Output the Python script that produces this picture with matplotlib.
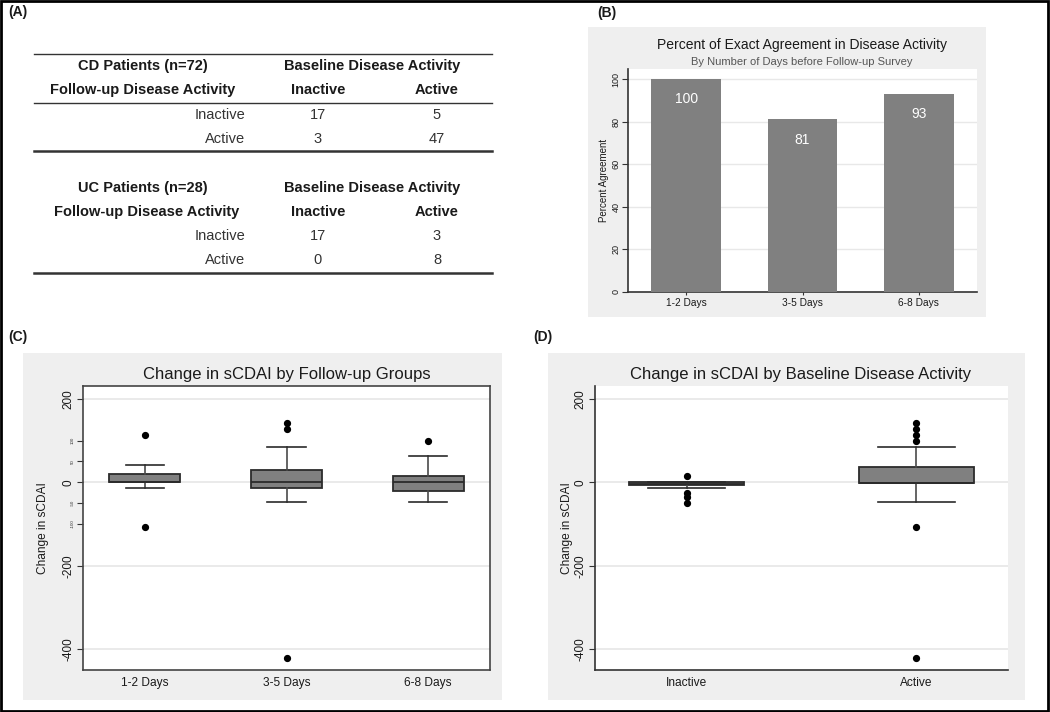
import matplotlib
matplotlib.use("Agg")
import matplotlib.pyplot as plt
from matplotlib.patches import Rectangle
from matplotlib.lines import Line2D

plt.rcParams['font.family'] = ['Liberation Sans', 'DejaVu Sans']

# ---------------- data ----------------
# Panel A tables
cd_title = "CD Patients (n=72)"
uc_title = "UC Patients (n=28)"
col_header = "Baseline Disease Activity"
row_header = "Follow-up Disease Activity"
col_labels = ["Inactive", "Active"]
row_labels = ["Inactive", "Active"]
cd_counts = [[17, 5], [3, 47]]
uc_counts = [[17, 3], [0, 8]]

# Panel B
b_categories = ["1-2 Days", "3-5 Days", "6-8 Days"]
b_values = [100, 81, 93]
b_yticks = [0, 20, 40, 60, 80, 100]

# Panel C
c_groups = ["1-2 Days", "3-5 Days", "6-8 Days"]
c_q1 = [0, -14, -21]
c_med = [0, 0, 0]
c_q3 = [21, 29, 15]
c_whislo = [-14, -48, -48]
c_whishi = [42, 85, 64]
c_fliers = [[113, -106], [142, 127, -421], [99]]

# Panel D
d_groups = ["Inactive", "Active"]
d_q1 = [-7, -2]
d_med = [-3, -2]
d_q3 = [0, 36]
d_whislo = [-14, -48]
d_whishi = [0, 85]
d_fliers = [[14, -26, -35, -49], [142, 128, 114, 99, -106, -422]]

major_ticks = [200, 0, -200, -400]
minor_ticks_c = [100, 50, -50, -100]

# ---------------- figure ----------------
W, H = 1050, 712
fig = plt.figure(figsize=(W / 100, H / 100), dpi=100)
fig.patch.set_facecolor('white')

def fx(x):
    return x / W

def fy(y):
    return 1 - y / H

def rect(x0, y0, x1, y1):
    return [fx(x0), fy(y1), (x1 - x0) / W, (y1 - y0) / H]

PANEL_BG = '#efefef'
TXT = '#1a1a1a'

# outer border
fig.patches.append(Rectangle((0.001, 0.001), 0.997, 0.997, transform=fig.transFigure,
                             fill=False, edgecolor='black', linewidth=2, zorder=10))

# panel backgrounds
for (x0, y0, x1, y1) in [(588, 27, 986, 317), (23, 353, 502, 700), (548, 353, 1025, 700)]:
    fig.patches.append(Rectangle((fx(x0), fy(y1)), (x1 - x0) / W, (y1 - y0) / H,
                                 transform=fig.transFigure, facecolor=PANEL_BG,
                                 edgecolor='none', zorder=-10))

# panel labels
for lbl, x, y in [("(A)", 8, 12), ("(B)", 597, 13), ("(C)", 8, 337), ("(D)", 533, 337)]:
    fig.text(fx(x), fy(y), lbl, fontsize=10, fontweight='bold', va='center', ha='left', color=TXT)

# ---------------- Panel A: tables ----------------
def hline(y, lw):
    fig.add_artist(Line2D([fx(34), fx(492)], [fy(y), fy(y)], transform=fig.transFigure,
                          color='#333333', linewidth=lw))

def draw_table(title, counts, y_title, y_rows, x_left_center):
    fs = 10.5
    fig.text(fx(143), fy(y_title), title, fontsize=fs, fontweight='bold', ha='center', va='center', color=TXT)
    fig.text(fx(372), fy(y_title), col_header, fontsize=fs, fontweight='bold', ha='center', va='center', color=TXT)
    y2 = y_title + 24
    fig.text(fx(x_left_center), fy(y2), row_header, fontsize=fs, fontweight='bold', ha='center', va='center', color=TXT)
    fig.text(fx(318), fy(y2), col_labels[0], fontsize=fs, fontweight='bold', ha='center', va='center', color=TXT)
    fig.text(fx(437), fy(y2), col_labels[1], fontsize=fs, fontweight='bold', ha='center', va='center', color=TXT)
    for i, yr in enumerate(y_rows):
        fig.text(fx(245), fy(yr), row_labels[i], fontsize=fs, ha='right', va='center', color='#333333')
        fig.text(fx(318), fy(yr), str(counts[i][0]), fontsize=fs, ha='center', va='center', color='#333333')
        fig.text(fx(437), fy(yr), str(counts[i][1]), fontsize=fs, ha='center', va='center', color='#333333')

hline(54, 1.0)
draw_table(cd_title, cd_counts, 66, [115, 139], 143)
hline(103, 1.0)
hline(151, 1.8)
draw_table(uc_title, uc_counts, 188, [236, 260], 147)
hline(273, 1.8)

# ---------------- Panel B: bar chart ----------------
axB = fig.add_axes(rect(628, 69, 977, 292))
xb = list(range(len(b_categories)))
bars = axB.bar(xb, b_values, width=0.6, color='#808080', zorder=3)
for xi, v in zip(xb, b_values):
    axB.annotate(str(v), (xi, v), xytext=(0, -14.5), textcoords='offset points',
                 ha='center', va='center', color='white', fontsize=10, zorder=4)
axB.set_xlim(-0.5, 2.5)
axB.set_ylim(0, 104.7)
axB.set_yticks(b_yticks)
axB.set_yticklabels([str(t) for t in b_yticks], rotation=90, va='center', fontsize=6.5, color=TXT)
axB.set_xticks(xb)
axB.set_xticklabels(b_categories, fontsize=7.3, color=TXT)
axB.tick_params(axis='y', length=4, width=0.8, pad=1.5, color='#333333')
axB.tick_params(axis='x', length=2, width=0.8, pad=2, color='#333333')
axB.yaxis.grid(True, color='#e8e8e8', linewidth=1)
axB.set_axisbelow(True)
for s in ['top', 'right']:
    axB.spines[s].set_visible(False)
for s in ['left', 'bottom']:
    axB.spines[s].set_color('#333333')
    axB.spines[s].set_linewidth(1.2)
fig.text(fx(802), fy(45), "Percent of Exact Agreement in Disease Activity", fontsize=10,
         ha='center', va='center', color=TXT)
fig.text(fx(802), fy(62), "By Number of Days before Follow-up Survey", fontsize=8,
         ha='center', va='center', color='#555555')
fig.text(fx(604), fy(180), "Percent Agreement", fontsize=7, rotation=90,
         ha='center', va='center', color=TXT)

# ---------------- box plot helper ----------------
def make_stats(labels, q1, med, q3, lo, hi, fl):
    return [dict(label=labels[i], q1=q1[i], med=med[i], q3=q3[i],
                 whislo=lo[i], whishi=hi[i], fliers=fl[i]) for i in range(len(labels))]

def draw_box(ax, stats, capw):
    ax.bxp(stats, positions=list(range(len(stats))), widths=0.5, capwidths=capw,
           patch_artist=True, showfliers=True,
           boxprops=dict(facecolor='#808080', edgecolor='#2b2b2b', linewidth=1.3),
           medianprops=dict(color='#2b2b2b', linewidth=1.3),
           whiskerprops=dict(color='#4a4a4a', linewidth=1.2),
           capprops=dict(color='#2b2b2b', linewidth=1.2),
           flierprops=dict(marker='o', markerfacecolor='black', markeredgecolor='black',
                           markersize=4.2))

def style_box_axes(ax):
    ax.set_ylim(-450, 231)
    ax.set_yticks(major_ticks)
    ax.set_yticklabels([str(t) for t in major_ticks], rotation=90, va='center',
                       fontsize=8.5, color=TXT)
    ax.yaxis.grid(True, which='major', color='#e6e6e6', linewidth=1.2)
    ax.set_axisbelow(True)
    ax.tick_params(axis='y', which='major', length=4, width=0.8, pad=2, color='#333333')
    ax.tick_params(axis='x', length=0, pad=5, labelsize=8.6, colors=TXT)

# ---------------- Panel C ----------------
axC = fig.add_axes(rect(83, 386, 490, 670))
draw_box(axC, make_stats(c_groups, c_q1, c_med, c_q3, c_whislo, c_whishi, c_fliers), 0.27)
style_box_axes(axC)
axC.set_xlim(-0.437, 2.437)
axC.set_yticks(minor_ticks_c, minor=True)
axC.set_yticklabels([str(t) for t in minor_ticks_c], minor=True, rotation=90, va='center',
                    fontsize=3.2, color='#333333')
axC.tick_params(axis='y', which='minor', length=4, width=0.8, pad=2, color='#333333')
for s in axC.spines.values():
    s.set_color('#444444')
    s.set_linewidth(1.2)
fig.text(fx(287), fy(375), "Change in sCDAI by Follow-up Groups", fontsize=12,
         ha='center', va='center', color=TXT)
fig.text(fx(43), fy(528), "Change in sCDAI", fontsize=8.6, rotation=90,
         ha='center', va='center', color=TXT)

# ---------------- Panel D ----------------
axD = fig.add_axes(rect(595, 386, 1008, 670))
draw_box(axD, make_stats(d_groups, d_q1, d_med, d_q3, d_whislo, d_whishi, d_fliers), 0.336)
style_box_axes(axD)
axD.set_xlim(-0.4, 1.4)
for s in ['top', 'right']:
    axD.spines[s].set_visible(False)
for s in ['left', 'bottom']:
    axD.spines[s].set_color('#333333')
    axD.spines[s].set_linewidth(1.2)
fig.text(fx(801), fy(375), "Change in sCDAI by Baseline Disease Activity", fontsize=12,
         ha='center', va='center', color=TXT)
fig.text(fx(567), fy(528), "Change in sCDAI", fontsize=8.6, rotation=90,
         ha='center', va='center', color=TXT)

fig.savefig("out.png", dpi=100, facecolor='white')
